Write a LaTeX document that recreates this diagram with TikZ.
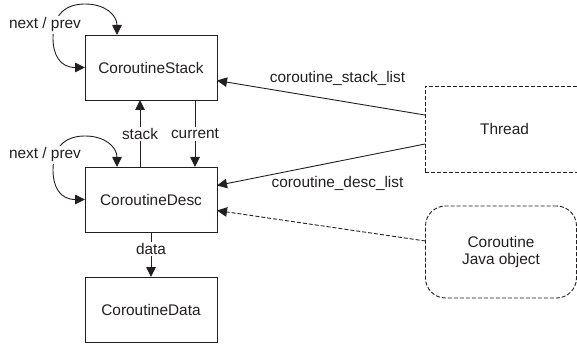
\documentclass[tikz,border=0pt]{standalone}
\usepackage{fontspec}
\setmainfont{Liberation Sans}
\usetikzlibrary{arrows.meta,calc}
\definecolor{ink}{HTML}{231F20}
\begin{document}
\begin{tikzpicture}[x=1pt,y=-1pt,
  every node/.style={font=\fontsize{15.4}{17.7}\selectfont, text=ink, outer sep=0pt},
  box/.style={draw=ink, line width=0.9pt, minimum width=132pt, minimum height=65pt, inner sep=0pt},
  dbox/.style={box, dash pattern=on 4pt off 2pt},
  tip/.style={Triangle[length=10pt,width=9.5pt]},
  arr/.style={draw=ink, line width=0.9pt, -{Triangle[length=10pt,width=9.5pt]}},
  biarr/.style={arr, {Triangle[length=10pt,width=9.5pt]}-{Triangle[length=10pt,width=9.5pt]}},
  darr/.style={arr, dash pattern=on 4pt off 2pt},
  lbl/.style={fill=white, inner sep=1.5pt}]
\useasboundingbox (0,0) rectangle (577,347);

% structures
\node[box] (stack) at (151,67.5) {CoroutineStack};
\node[box] (desc)  at (151,199.5) {CoroutineDesc};
\node[box] (data)  at (151,309.5) {CoroutineData};
\node[dbox, minimum width=159pt, minimum height=86pt, text width=153pt, align=left] (thread) at (504.5,129)
  {\makebox[153pt]{Thread}};
\node[dbox, minimum width=151pt, minimum height=92pt, rounded corners=20pt,
      align=center] (java) at (501,252) {Coroutine\\Java object};

% next / prev self links
\draw[biarr]
  ([xshift=-34pt]stack.north) .. controls +(0,-20) and +(20,0) .. ++(-32,-31)
  .. controls +(-17,0) and +(0,-26) .. ++(-32,34)
  .. controls +(0,17) and +(-25,0) .. (stack.west);
\node[lbl] (nps) at (45,25) {next / prev};

\draw[biarr]
  ([xshift=-34pt]desc.north) .. controls +(0,-20) and +(20,0) .. ++(-32,-31)
  .. controls +(-17,0) and +(0,-26) .. ++(-32,34)
  .. controls +(0,17) and +(-25,0) .. (desc.west);
\node[lbl] (npd) at (45,155) {next / prev};

% stack / current
\draw[arr] ([xshift=-11pt]desc.north) -- ([xshift=-11pt]stack.south);
\draw[arr] ([xshift=44pt]stack.south) -- ([xshift=44pt]desc.north);
\node[lbl] (lstack) at (140,134) {stack};
\node[lbl] (lcur) at (195,134) {current};

% data
\draw[arr] (desc.south) -- (data.north);
\node[lbl] (ldata) at (151,249) {data};

% thread lists
\draw[arr] ([yshift=14pt]thread.west) -- ([yshift=-13pt]stack.east);
\draw[arr] ([yshift=-15pt]thread.west) -- ([yshift=14pt]desc.east);
\node (lsl) at (337.5,78) {coroutine\_stack\_list};
\node (ldl) at (337.5,183) {coroutine\_desc\_list};

% java object
\draw[darr] ([yshift=11pt]java.west) -- ([yshift=-11pt]desc.east);
\end{tikzpicture}
\end{document}
